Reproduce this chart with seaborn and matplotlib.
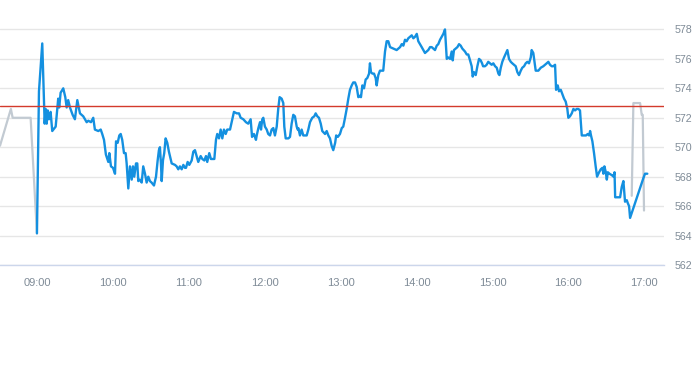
import matplotlib
matplotlib.use("Agg")
import matplotlib.pyplot as plt
import seaborn as sns
import pandas as pd

# ---- data (minutes after 09:00, price) ----
pre_minutes = [-29.2, -20.6, -19.2, -5.0, 0.0]
pre_prices = [570.1, 572.6, 572.0, 572.0, 564.15]

session_minutes = [
    0.0, 1.6, 4.2, 6.1, 6.9, 7.7, 8.5, 9.5, 10.8, 12.1, 14.8, 16.8, 17.6, 18.7, 20.8,
    22.4, 23.5, 24.7, 26.1, 28.2, 30.0, 31.9, 34.0, 36.6, 39.3, 40.6, 42.7, 44.5, 45.8,
    48.5, 50.4, 51.6, 53.0, 54.5, 56.4, 57.2, 58.5, 60.1, 61.7, 62.5, 63.8, 65.1, 66.2,
    67.4, 68.8, 70.1, 70.9, 72.2, 73.5, 74.9, 75.9, 76.9, 78.3, 79.3, 80.1, 81.4, 82.8,
    84.0, 85.4, 86.7, 88.0, 89.3, 90.6, 92.5, 94.1, 95.4, 96.4, 97.2, 98.0, 98.6, 99.6,
    100.6, 101.7, 103.0, 104.3, 106.5, 109.1, 110.4, 111.7, 113.0, 114.4, 115.7, 117.0,
    117.8, 119.1, 120.4, 122.3, 123.6, 124.9, 126.2, 127.5, 129.4, 130.7, 132.3, 133.6,
    134.6, 136.2, 137.5, 140.2, 141.5, 142.5, 143.9, 145.2, 146.5, 147.8, 149.2, 150.4,
    152.6, 154.4, 155.7, 157.9, 159.7, 161.0, 163.1, 165.2, 167.0, 168.9, 170.0, 171.5,
    173.1, 173.7, 175.0, 176.3, 177.1, 178.1, 178.9, 180.2, 181.6, 182.8, 184.2, 185.5,
    186.8, 188.1, 189.5, 190.7, 191.8, 193.4, 194.7, 195.5, 196.6, 198.7, 200.0, 201.3,
    202.6, 203.9, 205.3, 206.1, 206.6, 207.9, 209.2, 210.5, 213.2, 214.5, 215.8, 217.6,
    219.2, 220.3, 221.6, 222.9, 224.3, 225.5, 227.7, 229.0, 230.3, 231.6, 232.9, 234.2,
    235.7, 236.5, 237.8, 239.5, 240.9, 242.1, 243.5, 244.8, 246.1, 247.4, 248.8, 250.0,
    251.4, 252.7, 254.0, 255.3, 256.1, 257.2, 258.5, 259.8, 261.1, 262.5, 263.2, 264.0,
    265.1, 266.4, 267.7, 268.5, 269.8, 271.1, 273.7, 275.1, 276.4, 277.7, 279.1, 281.7,
    284.3, 285.6, 287.0, 288.3, 289.6, 290.9, 292.2, 293.5, 294.9, 296.2, 297.5, 298.8,
    300.2, 301.4, 302.8, 304.1, 305.4, 306.7, 308.0, 309.3, 310.7, 312.0, 313.3, 314.6,
    316.0, 317.2, 318.6, 319.9, 321.2, 322.5, 323.9, 325.1, 326.5, 327.8, 328.6, 329.6,
    331.0, 332.3, 333.6, 334.9, 336.2, 338.3, 339.7, 340.9, 342.3, 343.6, 344.4, 345.4,
    346.8, 348.1, 349.4, 350.7, 351.8, 352.6, 354.1, 355.4, 356.7, 358.1, 359.4, 360.7,
    362.1, 363.4, 364.7, 365.5, 366.6, 367.8, 369.2, 370.8, 371.8, 373.1, 374.5, 375.7,
    377.1, 378.4, 379.7, 381.0, 382.4, 383.6, 385.0, 386.3, 387.6, 388.9, 390.3, 391.0,
    392.3, 393.1, 394.2, 396.3, 398.2, 400.2, 401.6, 402.9, 404.2, 405.5, 406.9, 408.1,
    409.5, 410.3, 411.6, 412.6, 414.0, 415.3, 416.6, 417.9, 419.2, 420.0, 421.3, 422.7,
    424.0, 425.3, 426.6, 427.9, 429.2, 430.6, 432.4, 434.0, 435.3, 436.4, 437.2, 437.9,
    439.0, 440.3, 441.6, 442.7, 444.3, 445.6, 446.9, 447.7, 448.5, 449.6, 450.4, 451.2,
    452.5, 454.4, 455.7, 456.5, 457.0, 459.6, 460.9, 462.2, 463.5, 464.8, 466.2, 467.0,
    468.0, 468.8, 479.3, 480.6, 482.4,
]
session_prices = [
    564.15, 573.8, 577.05, 571.6, 572.6, 571.6, 572.5, 571.9, 572.4, 571.1, 571.4, 573.3,
    572.7, 573.7, 574.0, 573.4, 572.7, 573.2, 572.7, 572.2, 571.9, 573.2, 572.3, 572.1,
    571.7, 571.8, 571.7, 572.0, 571.2, 571.1, 571.2, 570.9, 570.5, 569.5, 569.0, 569.6,
    568.7, 568.6, 568.2, 570.4, 570.3, 570.8, 570.9, 570.5, 569.6, 569.6, 568.9, 567.2,
    568.7, 567.8, 568.7, 568.0, 568.9, 568.9, 567.7, 567.8, 567.6, 568.7, 568.2, 567.6,
    568.0, 567.7, 567.6, 567.4, 568.0, 569.1, 569.8, 570.0, 568.9, 567.7, 569.1, 569.6,
    570.6, 570.3, 569.7, 568.9, 568.8, 568.7, 568.5, 568.7, 568.5, 568.8, 568.6, 568.6,
    569.0, 568.8, 569.1, 569.7, 569.8, 569.4, 569.0, 569.4, 569.2, 569.1, 569.4, 569.0,
    569.6, 569.2, 569.2, 570.5, 570.9, 570.6, 571.2, 570.6, 571.2, 570.9, 571.2, 571.2,
    571.9, 572.4, 572.3, 572.3, 572.0, 571.9, 571.7, 571.6, 571.9, 570.7, 570.9, 570.5,
    570.8, 571.3, 571.7, 571.2, 571.9, 572.0, 571.4, 571.2, 570.9, 570.8, 571.2, 571.3,
    570.8, 571.4, 572.6, 573.4, 573.3, 573.0, 571.4, 570.6, 570.6, 570.7, 571.6, 572.2,
    572.1, 571.4, 571.2, 571.3, 570.8, 571.2, 570.8, 570.8, 571.2, 571.7, 572.0, 572.1,
    572.3, 572.1, 572.0, 571.6, 571.1, 570.9, 571.1, 570.8, 570.6, 570.1, 569.8, 570.3,
    570.8, 570.7, 570.9, 571.3, 571.4, 572.0, 572.6, 573.3, 573.9, 574.2, 574.4, 574.4,
    574.1, 573.4, 573.5, 573.4, 574.2, 574.0, 574.6, 574.7, 575.0, 575.7, 575.1, 575.0,
    575.0, 574.7, 574.2, 574.9, 575.2, 575.2, 576.5, 577.2, 577.2, 576.8, 576.7, 576.6,
    576.7, 576.8, 577.0, 576.9, 577.3, 577.2, 577.4, 577.5, 577.6, 577.4, 577.5, 577.7,
    577.2, 577.0, 576.8, 576.6, 576.4, 576.5, 576.6, 576.8, 576.8, 576.7, 576.6, 576.9,
    577.0, 577.3, 577.5, 577.7, 578.0, 576.0, 576.1, 576.0, 576.5, 575.9, 576.6, 576.7,
    576.8, 577.0, 576.9, 576.7, 576.5, 576.3, 576.3, 575.9, 575.5, 574.8, 575.1, 574.9,
    575.5, 576.0, 575.9, 575.7, 575.5, 575.5, 575.6, 575.8, 575.7, 575.6, 575.7, 575.5,
    575.4, 575.0, 574.9, 575.4, 575.8, 576.1, 576.4, 576.6, 576.0, 575.8, 575.7, 575.6,
    575.5, 575.1, 574.9, 575.2, 575.4, 575.5, 575.7, 575.8, 575.7, 576.1, 576.6, 576.4,
    575.9, 575.2, 575.2, 575.4, 575.5, 575.6, 575.7, 575.8, 575.6, 575.5, 575.5, 575.6,
    573.9, 574.2, 573.8, 573.9, 573.6, 573.3, 573.1, 572.6, 572.0, 572.1, 572.3, 572.6,
    572.5, 572.6, 572.6, 572.5, 570.8, 570.8, 570.8, 570.9, 570.8, 571.1, 570.8, 570.4,
    569.6, 568.7, 568.0, 568.3, 568.5, 568.6, 568.2, 568.7, 568.3, 567.8, 568.3, 568.2,
    568.1, 568.0, 568.3, 566.6, 566.6, 566.6, 567.3, 567.7, 566.3, 566.4, 566.2, 566.0,
    565.2, 567.9, 568.2, 568.2,
]

post_minutes = [470.1, 471.4, 476.7, 478.0, 478.8, 479.8]
post_prices = [566.7, 573.0, 573.0, 572.2, 572.2, 565.7]

reference_price = 572.8
y_ticks = [562, 564, 566, 568, 570, 572, 574, 576, 578]
x_tick_minutes = [0, 60, 120, 180, 240, 300, 360, 420, 480]
x_tick_labels = ["09:00", "10:00", "11:00", "12:00", "13:00", "14:00", "15:00", "16:00", "17:00"]

pre_df = pd.DataFrame({"minute": pre_minutes, "price": pre_prices})
session_df = pd.DataFrame({"minute": session_minutes, "price": session_prices})
post_df = pd.DataFrame({"minute": post_minutes, "price": post_prices})

sns.set_style("white")
plt.rcParams["font.family"] = ["Liberation Sans", "DejaVu Sans"]

fig = plt.figure(figsize=(6.93, 3.65), dpi=100)
ax = fig.add_axes([0, 100 / 365, 664 / 693, 265 / 365])

grey = "#c2cad2"
blue = "#1490e0"
sns.lineplot(data=pre_df, x="minute", y="price", ax=ax, color=grey, lw=1.6,
             estimator=None, sort=False)
sns.lineplot(data=post_df, x="minute", y="price", ax=ax, color=grey, lw=1.6,
             estimator=None, sort=False)
sns.lineplot(data=session_df, x="minute", y="price", ax=ax, color=blue, lw=1.7,
             estimator=None, sort=False)
ax.axhline(reference_price, color="#d33a2c", lw=1.0, zorder=3)

ax.set_xlim(-29.2, 495.6)
ax.set_ylim(562, 580)
ax.set_yticks(y_ticks)
ax.set_xticks(x_tick_minutes)
ax.set_xticklabels(x_tick_labels)
ax.yaxis.tick_right()
ax.grid(axis="y", color="#e6e6e6", lw=1.0)
ax.grid(axis="x", visible=False)
ax.set_axisbelow(True)
for side in ["top", "left", "right"]:
    ax.spines[side].set_visible(False)
ax.spines["bottom"].set_color("#ccd6eb")
ax.spines["bottom"].set_linewidth(1.0)
ax.tick_params(axis="y", length=0, pad=7.5, labelsize=7.7, labelcolor="#7f8b97")
ax.tick_params(axis="x", length=5, width=1, color="#ccd6eb", pad=4,
               labelsize=8, labelcolor="#7f8b97")
ax.set_xlabel("")
ax.set_ylabel("")

fig.savefig("out.png", dpi=100)
